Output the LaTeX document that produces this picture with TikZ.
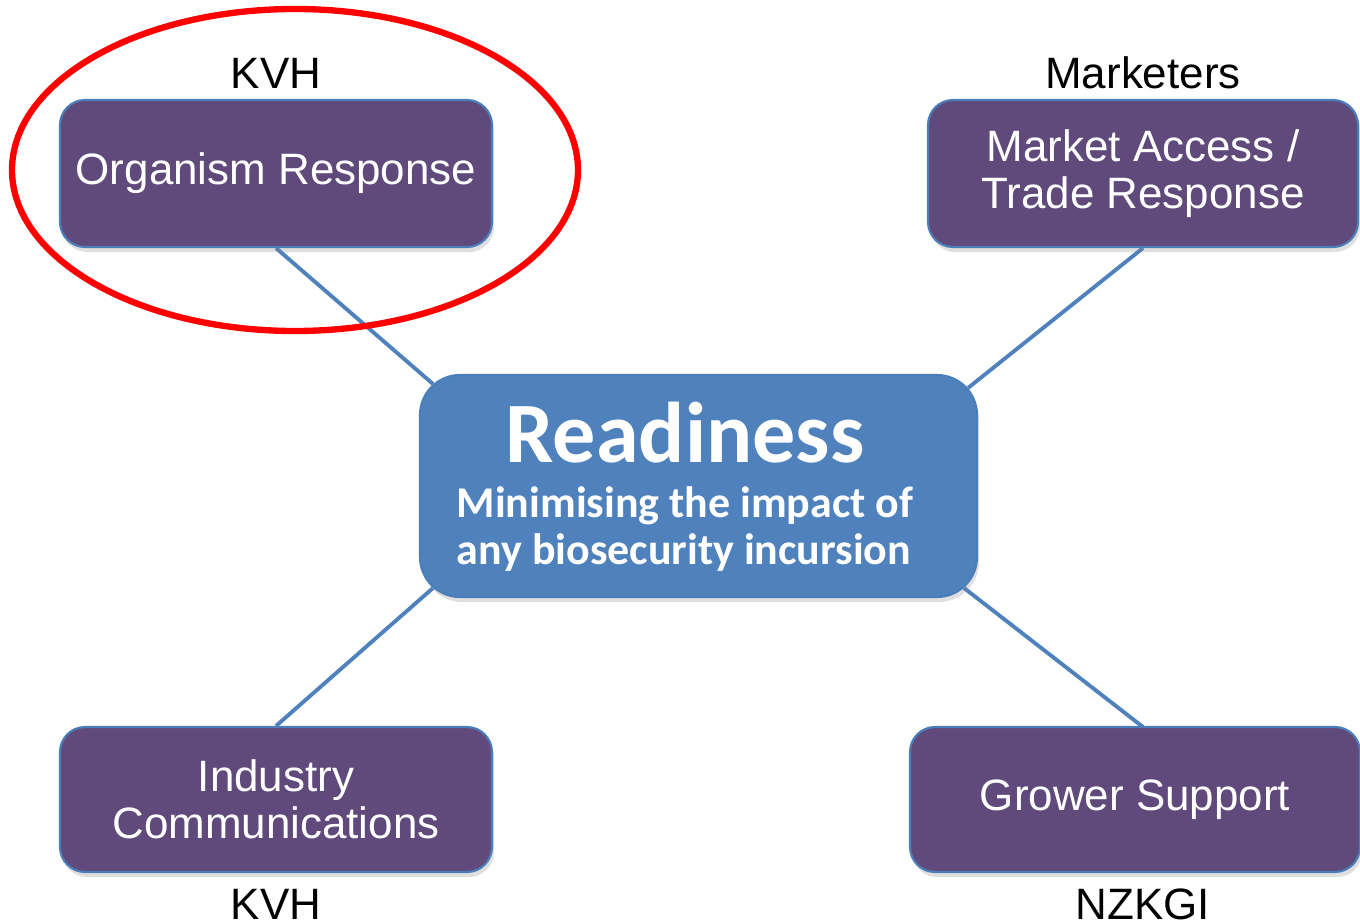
\documentclass[tikz,border=0pt]{standalone}
\usepackage{fontspec}
\setmainfont{Liberation Sans}
\newfontfamily\calibri{Carlito}
\usepackage{tikz}
\usetikzlibrary{backgrounds,shadows}

\definecolor{boxpurple}{HTML}{604A7B}
\definecolor{boxblue}{HTML}{4F81BD}
\definecolor{boxedge}{HTML}{4A7EBB}
\definecolor{ringred}{HTML}{FF0000}

\begin{document}
\begin{tikzpicture}[
    task/.style={rectangle, rounded corners=0.25cm, fill=boxpurple, draw=boxedge, line width=0.6pt,
       text=white, align=center, font=\fontsize{12.5}{13.4}\selectfont,
       minimum width=4.32cm, minimum height=1.47cm, inner sep=0pt,
       drop shadow={opacity=0.25, shadow xshift=0.02cm, shadow yshift=-0.05cm}},
    hub/.style={rectangle, rounded corners=0.4cm, fill=boxblue, draw=boxedge, line width=0.6pt,
       text=white, align=center, inner sep=0pt,
       minimum width=5.57cm, minimum height=2.22cm,
       drop shadow={opacity=0.25, shadow xshift=0.02cm, shadow yshift=-0.05cm}},
    owner/.style={font=\fontsize{12.5}{13.4}\selectfont, inner sep=0pt},
    link/.style={draw=boxblue, line width=1.1pt}
  ]
   \useasboundingbox (0,0) rectangle (13.6,-9.24);

   % centre
   \node[hub] (ready) at (6.985,-4.86) {};
   \node[font=\calibri\bfseries\fontsize{24.5}{26}\selectfont, text=white] (readytitle) at (6.85,-4.33) {Readiness};
   \node[font=\calibri\bfseries\fontsize{12.5}{13.4}\selectfont, text=white, align=left] (readysub) at (6.85,-5.29)
        {Minimising the impact of\\any biosecurity incursion};

   % the four arms
   \node[task] (org) at (2.76,-1.735) {Organism Response};
   \node[task, minimum width=4.30cm] (mkt) at (11.43,-1.735) {Market Access /\\Trade Response};
   \node[task, minimum height=1.45cm] (ind) at (2.76,-7.995) {Industry\\Communications};
   \node[task, minimum width=4.5cm, minimum height=1.45cm] (grow) at (11.35,-7.995) {Grower Support};

   \node[owner] (orgwho) at (2.76,-0.73) {KVH};
   \node[owner] (mktwho) at (11.43,-0.73) {Marketers};
   \node[owner] (indwho) at (2.76,-9.04) {KVH};
   \node[owner] (growwho) at (11.43,-9.04) {NZKGI};

   \coordinate (growtop) at (11.43,-7.27);
   \coordinate (nw) at ([shift={(0.14,-0.10)}]ready.north west);
   \coordinate (ne) at ([shift={(-0.10,-0.14)}]ready.north east);
   \coordinate (sw) at ([shift={(0.14,0.10)}]ready.south west);
   \coordinate (se) at ([shift={(-0.14,0.10)}]ready.south east);

   \begin{scope}[on background layer]
     \draw[link] (org.south) -- (nw);
     \draw[link] (mkt.south) -- (ne);
     \draw[link] (ind.north) -- (sw);
     \draw[link] (growtop) -- (se);
   \end{scope}

   % highlight
   \draw[ringred, line width=1.8pt] (2.95,-1.70) ellipse (2.83cm and 1.61cm);
 \end{tikzpicture}
\end{document}
